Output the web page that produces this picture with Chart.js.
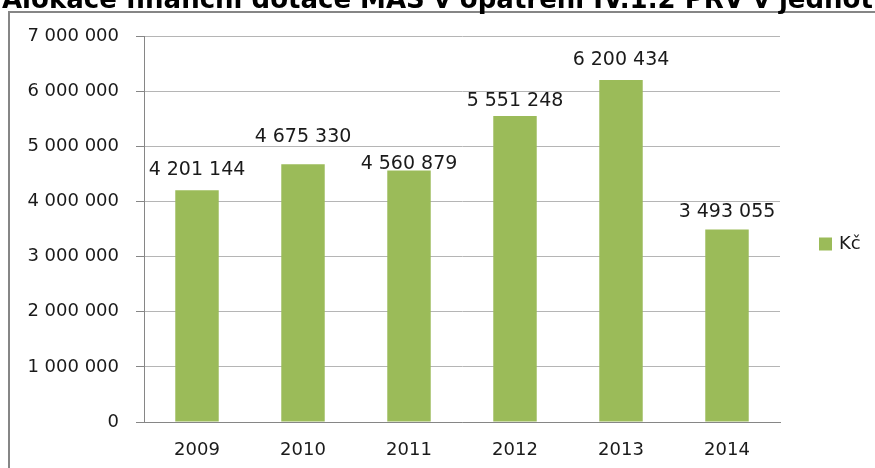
<!DOCTYPE html>
<html lang="cs">
<head>
<meta charset="utf-8">
<title>Alokace finanční dotace MAS</title>
<script src="https://cdn.jsdelivr.net/npm/chart.js@4/dist/chart.umd.min.js"></script>
<style>
    html, body { margin: 0; padding: 0; background: #fff; }
    #wrap { position: relative; width: 875px; height: 468px; overflow: hidden; }
    #frame {
        position: absolute; left: 8px; top: 11px; width: 1000px; height: 600px;
        border-left: 2px solid #868686; border-top: 2px solid #868686;
    }
    #title {
        position: absolute; left: 2px; top: -14px; white-space: nowrap;
        font: bold 26px/26px 'DejaVu Sans', sans-serif; color: #000;
    }
    #chart { position: absolute; left: 0; top: 0; }
</style>
</head>
<body>
<div id="wrap">
    <div id="frame"></div>
    <canvas id="chart" width="875" height="468"></canvas>
    <div id="title">Alokace finanční dotace MAS v opatření IV.1.2 PRV v jednotlivých letech</div>
</div>
<script>
// Data
const years = ['2009', '2010', '2011', '2012', '2013', '2014'];
const amounts = [4201144, 4675330, 4560879, 5551248, 6200434, 3493055];
const seriesName = 'Kč';

// label distance above bar top (labels were not all at the same height)
const labelGap = [15, 22, 2, 10, 15, 12];

const fmt = v => String(v).replace(/\B(?=(\d{3})+(?!\d))/g, ' ');

const font = "'DejaVu Sans', sans-serif";
const textColor = '#1a1a1a';

// --- value labels above bars ---
const valueLabels = {
    id: 'valueLabels',
    afterDatasetsDraw(chart) {
        const ctx = chart.ctx;
        const meta = chart.getDatasetMeta(0);
        ctx.save();
        ctx.font = '19px ' + font;
        ctx.fillStyle = textColor;
        ctx.textAlign = 'center';
        ctx.textBaseline = 'alphabetic';
        meta.data.forEach((bar, i) => {
            ctx.fillText(fmt(amounts[i]), bar.x, bar.y - labelGap[i]);
        });
        ctx.restore();
    }
};

// --- legend on the right, centred a bit below the plot middle ---
const sideLegend = {
    id: 'sideLegend',
    afterDraw(chart) {
        const ctx = chart.ctx;
        const ds = chart.data.datasets[0];
        const x = chart.chartArea.right + 39;
        const y = 244;
        ctx.save();
        ctx.fillStyle = ds.backgroundColor;
        ctx.fillRect(x, y - 6.5, 13, 13);
        ctx.font = '18px ' + font;
        ctx.fillStyle = textColor;
        ctx.textBaseline = 'middle';
        ctx.fillText(ds.label, x + 20, y);
        ctx.restore();
    }
};

new Chart(document.getElementById('chart'), {
    type: 'bar',
    data: {
        labels: years,
        datasets: [{
            label: seriesName,
            data: amounts,
            backgroundColor: '#9BBB59',
            barPercentage: 0.41,
            categoryPercentage: 1
        }]
    },
    options: {
        responsive: false,
        animation: false,
        layout: { padding: { top: 36, left: 0, right: 95, bottom: 0 } },
        plugins: {
            tooltip: { enabled: false },
            legend: { display: false }
        },
        scales: {
            x: {
                grid: { display: false },
                border: { color: '#868686' },
                ticks: { color: textColor, padding: 10, font: { family: font, size: 18 } },
                afterFit(scale) { scale.height = 46; }
            },
            y: {
                min: 0, max: 7000000,
                grid: { color: '#b5b5b5', tickColor: '#868686', tickLength: 8 },
                border: { color: '#868686' },
                ticks: {
                    stepSize: 1000000, color: textColor, padding: 17,
                    font: { family: font, size: 18 },
                    callback: v => fmt(v)
                },
                afterFit(scale) { scale.width = 144; }
            }
        }
    },
    plugins: [valueLabels, sideLegend]
});
</script>
</body>
</html>
